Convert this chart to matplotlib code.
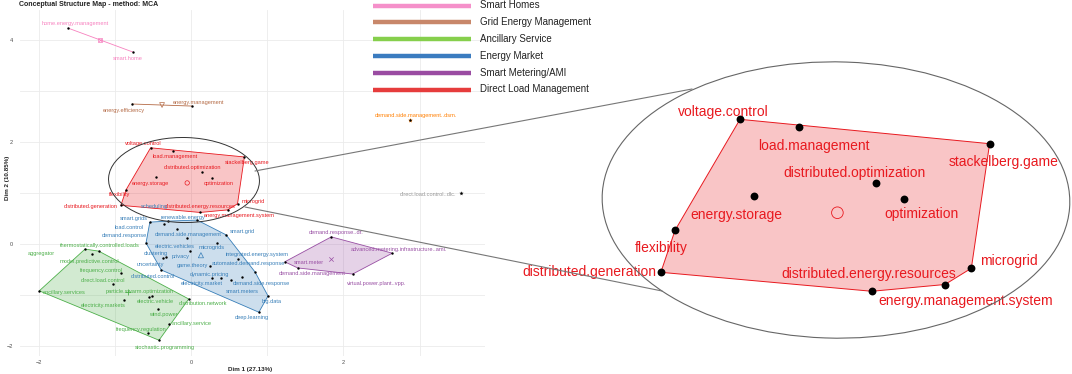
"""Conceptual structure map (MCA) with a zoomed view of the Direct Load Management cluster."""
import matplotlib
matplotlib.use("Agg")
import matplotlib.pyplot as plt
from matplotlib.patches import Polygon, Ellipse, ConnectionPatch
from matplotlib.lines import Line2D

plt.rcParams["font.family"] = ["Liberation Sans", "DejaVu Sans"]

W, H = 1072, 374

# ---------------- data (Dim 1, Dim 2) ----------------
pink_names = ["home.energy.management", "smart.home"]
pink_x = [-1.61, -0.76]
pink_y = [4.24, 3.77]
pink_centroid = (-1.19, 4.01)

brown_names = ["energy.efficiency", "energy.management"]
brown_x = [-0.77, 0.01]
brown_y = [2.75, 2.71]
brown_centroid = (-0.38, 2.73)

orange_names = ["demand.side.management..dsm."]
orange_x = [2.87]
orange_y = [2.44]

grey_names = ["direct.load.control..dlc."]
grey_x = [3.54]
grey_y = [1.00]

red_names = ["voltage.control", "load.management", "stackelberg.game",
             "distributed.optimization", "optimization", "energy.storage",
             "flexibility", "distributed.generation",
             "distributed.energy.resources", "energy.management.system",
             "microgrid"]
red_x = [-0.53, -0.24, 0.70, 0.14, 0.28, -0.46, -0.85, -0.92, 0.12, 0.48, 0.61]
red_y = [1.89, 1.83, 1.71, 1.42, 1.30, 1.32, 1.07, 0.76, 0.62, 0.67, 0.79]
red_centroid = (-0.05, 1.20)

blue_names = ["smart.grids", "load.control", "demand.side.management",
              "smart.grid", "electric.vehicles", "microgrids",
              "demand.response", "privacy", "clustering", "uncertainty",
              "distributed.control", "game.theory", "integrated.energy.system",
              "automated.demand.response", "dynamic.pricing",
              "electricity.market", "demand.side.response", "smart.meters",
              "big.data", "deep.learning", "scheduling", "renewable.energy"]
blue_x = [-0.54, -0.35, -0.18, 0.46, -0.05, 0.34, -0.59, -0.01, -0.33, -0.37,
          -0.39, 0.25, 0.62, 0.84, 0.28, 0.39, 0.67, 0.52, 1.01, 0.89,
          -0.30, 0.08]
blue_y = [0.43, 0.39, 0.29, 0.18, 0.12, 0.02, 0.02, -0.14, -0.26, -0.28,
          -0.51, -0.43, -0.29, -0.55, -0.67, -0.67, -0.65, -0.71, -1.02,
          -1.34, 0.45, 0.47]
blue_centroid = (0.13, -0.22)

green_names = ["thermostatically.controlled.loads", "aggregator",
               "model.predictive.control", "frequency.control",
               "direct.load.control", "ancillary.services",
               "particle.swarm.optimization", "electricity.markets",
               "electric.vehicle", "distribution.network", "wind.power",
               "ancillary.service", "frequency.regulation",
               "stochastic.programming"]
green_x = [-1.21, -1.39, -1.30, -0.92, -1.02, -1.99, -0.55, -0.88, -0.51,
           -0.03, -0.43, -0.29, -0.56, -0.42]
green_y = [-0.14, -0.10, -0.20, -0.57, -0.79, -0.92, -1.04, -1.10, -1.02,
           -1.08, -1.28, -1.57, -1.75, -1.89]
green_centroid = (-0.83, -0.94)

purple_names = ["demand.response..dr.", "advanced.metering.infrastructure..ami.",
                "smart.meter", "demand.side.management",
                "virtual.power.plant..vpp."]
purple_x = [1.84, 2.64, 1.23, 1.40, 2.12]
purple_y = [0.14, -0.18, -0.35, -0.47, -0.59]
purple_centroid = (1.84, -0.29)

legend_names = ["Smart Homes", "Grid Energy Management", "Ancillary Service",
                "Energy Market", "Smart Metering/AMI", "Direct Load Management"]
legend_colors = ["#F590CA", "#C8876A", "#86CF4C", "#3B7CC0", "#9A4CA2", "#E63C3C"]

# ---------------- layout: label offsets in pixels (dx right, dy down) ----------------
pink_off = [(7, -5), (-5, 6)]
brown_off = [(-8, 6), (7, -4)]
orange_off = [(6, -4)]
grey_off = [(-33, 1)]
red_off = [(-7, -4), (2, 6), (3, 6), (-9, -4), (6, 6), (-6, 7), (-7, 5),
           (-30, 1), (0, -6), (12, 6), (16, -2)]
red_off_zoom = [(-17, -7), (15, 19), (14, 18), (-21, -10), (17, 15), (-18, 19),
                (-14, 18), (-71, 0), (-3, -17), (21, 16), (38, -7)]
blue_off = [(-16, -4), (-35, 3), (11, 5), (16, -3), (-12, 9), (-5, 5), (-22, -7),
            (-10, 5), (-10, -4), (-12, 6), (-8, 7), (-18, 0), (19, -4), (-7, -9),
            (-3, -4), (-19, 5), (19, 6), (12, 11), (4, 6), (-7, 5), (-14, -15),
            (-14, -3)]
green_off = [(1, -6), (-44, 4), (-2, 7), (-19, -3), (-10, -4), (25, 2), (-9, -5),
             (-21, 5), (3, 6), (14, 5), (5, 5), (23, 0), (-7, -4), (6, 7)]
purple_off = [(5, -4), (7, -4), (24, 1), (14, 6), (24, 9)]

RED = "#E8191F"


def hull(xs, ys):
    pts = sorted(set(zip(xs, ys)))
    if len(pts) < 3:
        return pts

    def cross(o, a, b):
        return (a[0] - o[0]) * (b[1] - o[1]) - (a[1] - o[1]) * (b[0] - o[0])

    lower, upper = [], []
    for p in pts:
        while len(lower) >= 2 and cross(lower[-2], lower[-1], p) <= 0:
            lower.pop()
        lower.append(p)
    for p in reversed(pts):
        while len(upper) >= 2 and cross(upper[-2], upper[-1], p) <= 0:
            upper.pop()
        upper.append(p)
    return lower[:-1] + upper[:-1]


def px_axes(fig, l, t, r, b):
    return fig.add_axes([l / W, 1 - b / H, (r - l) / W, (b - t) / H])


def draw_cluster(ax, names, xs, ys, color, offsets, fs, s, lw, poly=True, text_color=None):
    if poly and len(xs) >= 3:
        ax.add_patch(Polygon(hull(xs, ys), closed=True, facecolor=color,
                             alpha=0.25, edgecolor="none", zorder=1))
        ax.add_patch(Polygon(hull(xs, ys), closed=True, facecolor="none",
                             edgecolor=color, lw=lw, zorder=2))
    elif poly:
        ax.plot(xs, ys, color=color, lw=lw, zorder=2)
    ax.scatter(xs, ys, s=s, color="black", zorder=4, linewidths=0)
    for name, x, y, (dx, dy) in zip(names, xs, ys, offsets):
        ax.annotate(name, (x, y), xytext=(dx * 0.72, -dy * 0.72),
                    textcoords="offset points", ha="center", va="center",
                    fontsize=fs, color=text_color or color, zorder=5)


def main():
    fig = plt.figure(figsize=(W / 100, H / 100), dpi=100)

    # ---------------- main map ----------------
    ax = px_axes(fig, 20, 10, 485, 356)
    ax.set_xlim(-2.243, 3.856)
    ax.set_ylim(-2.200, 4.597)
    ax.set_xticks([-2, 0, 2])
    ax.set_xticks([-1, 1, 3], minor=True)
    ax.set_yticks([-2, 0, 2, 4])
    ax.set_yticks([-1, 1, 3], minor=True)
    ax.grid(which="both", color="#EBEBEB", lw=0.6)
    ax.set_axisbelow(True)
    for sp in ax.spines.values():
        sp.set_visible(False)
    ax.tick_params(which="both", length=0, labelsize=4, labelcolor="#4D4D4D")
    ax.tick_params(axis="x", pad=3)
    ax.tick_params(axis="y", pad=5)

    fs, s, lw = 4.1, 3, 0.6
    draw_cluster(ax, pink_names, pink_x, pink_y, "#F781BF", pink_off, fs, s, lw)
    draw_cluster(ax, brown_names, brown_x, brown_y, "#B46A45", brown_off, fs, s, lw)
    draw_cluster(ax, red_names, red_x, red_y, RED, red_off, fs, s, lw)
    draw_cluster(ax, blue_names, blue_x, blue_y, "#377EB8", blue_off, fs, s, lw)
    draw_cluster(ax, green_names, green_x, green_y, "#4DAF4A", green_off, fs, s, lw)
    draw_cluster(ax, purple_names, purple_x, purple_y, "#984EA3", purple_off, fs, s, lw)

    ax.scatter(orange_x, orange_y, marker="*", s=14, color="#FF7F00", zorder=3, linewidths=0)
    draw_cluster(ax, orange_names, orange_x, orange_y, "#FF7F00", orange_off, fs, s, lw, poly=False)
    ax.scatter(grey_x, grey_y, marker="*", s=14, color="#999999", zorder=3, linewidths=0)
    draw_cluster(ax, grey_names, grey_x, grey_y, "#999999", grey_off, fs, s, lw, poly=False)

    # centroids
    ax.scatter(*pink_centroid, marker="s", s=10, facecolor="none", edgecolor="#F781BF", lw=0.5, zorder=3)
    ax.scatter(*pink_centroid, marker="x", s=6, color="#F781BF", lw=0.5, zorder=3)
    ax.scatter(*brown_centroid, marker="v", s=12, facecolor="none", edgecolor="#B46A45", lw=0.5, zorder=3)
    ax.scatter(*red_centroid, marker="o", s=10, facecolor="none", edgecolor=RED, lw=0.5, zorder=3)
    ax.scatter(*blue_centroid, marker="^", s=14, facecolor="none", edgecolor="#377EB8", lw=0.5, zorder=3)
    ax.scatter(*green_centroid, marker="+", s=16, color="#4DAF4A", lw=0.6, zorder=3)
    ax.scatter(*purple_centroid, marker="x", s=10, color="#984EA3", lw=0.5, zorder=3)

    ax.add_patch(Ellipse((-0.092, 1.257), 1.98, 1.67, angle=-3, fill=False,
                         edgecolor="#333333", lw=0.7, zorder=6))

    fig.text(19 / W, 1 - 5 / H, "Conceptual Structure Map - method: MCA",
             ha="left", va="center", fontsize=5, fontweight="bold", color="#222222")
    fig.text(250 / W, 1 - 369 / H, "Dim 1 (27.13%)", ha="center", va="center",
             fontsize=4.5, fontweight="bold", color="#222222")
    fig.text(8 / W, 1 - 178 / H, "Dim 2 (10.85%)", ha="center", va="center",
             rotation=90, fontsize=4.5, fontweight="bold", color="#222222")

    # ---------------- legend ----------------
    for i, (name, col) in enumerate(zip(legend_names, legend_colors)):
        yy = 1 - (5.5 + 16.8 * i) / H
        fig.add_artist(Line2D([373 / W, 471 / W], [yy, yy], color=col, lw=3.2,
                              solid_capstyle="butt"))
        fig.text(480 / W, yy, name, ha="left", va="center", fontsize=7, color="#222222")

    # ---------------- zoomed panel ----------------
    rax = px_axes(fig, 520, 55, 1072, 374)
    rax.set_xlim(-1.614, 1.106)
    rax.set_ylim(0.009, 2.365)
    rax.axis("off")
    draw_cluster(rax, red_names, red_x, red_y, RED, red_off_zoom, 10, 32, 0.7)
    rax.scatter(*red_centroid, marker="o", s=70, facecolor="none", edgecolor=RED, lw=0.6, zorder=3)
    rax.add_patch(Ellipse((-0.057, 1.294), 2.305, 2.04, angle=-3, fill=False,
                          edgecolor="#666666", lw=0.8, zorder=6))

    for a, b in [((0.839, 1.434), (-0.766, 2.114)), ((0.708, 0.727), (-0.914, 0.622))]:
        fig.add_artist(ConnectionPatch(xyA=a, coordsA=ax.transData, xyB=b,
                                       coordsB=rax.transData, color="#777777", lw=0.8))

    fig.savefig("out.png", dpi=100)


if __name__ == "__main__":
    main()
